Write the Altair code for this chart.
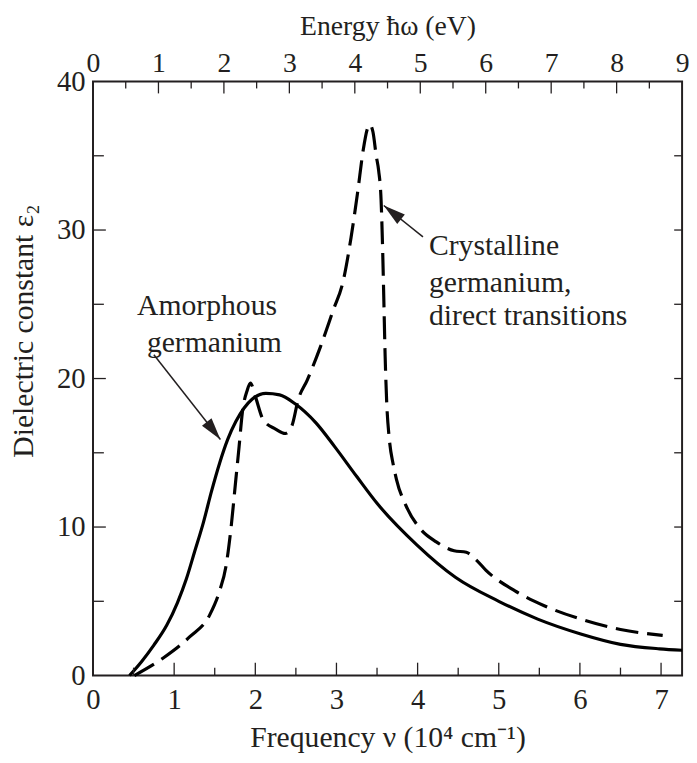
import math
import altair as alt
import pandas as pd

# ---------------- data ----------------
amor_x = [0.45, 0.60, 0.75, 0.91, 1.04, 1.15, 1.25, 1.36, 1.46, 1.56, 1.66, 1.76,
          1.86, 1.96, 2.13, 2.30, 2.49, 2.75, 2.98, 3.25, 3.50, 3.99, 4.47, 5.00,
          5.48, 6.01, 6.50, 6.98, 7.259]
amor_y = [0.0, 0.95, 2.05, 3.4, 4.9, 6.5, 8.3, 10.3, 12.4, 14.3, 15.9, 17.1,
          18.0, 18.6, 19.0, 18.9, 18.3, 17.0, 15.4, 13.4, 11.6, 8.8, 6.6, 5.0,
          3.8, 2.8, 2.1, 1.8, 1.7]

cryst_x = [0.51, 0.87, 1.19, 1.44, 1.56, 1.64, 1.70, 1.76, 1.80, 1.84, 1.90, 1.94,
           2.00, 2.10, 2.25, 2.37, 2.45, 2.53, 2.64, 2.80, 2.96, 3.08, 3.18, 3.26,
           3.33, 3.38, 3.41, 3.45, 3.49, 3.52, 3.55, 3.57, 3.585, 3.60, 3.62, 3.65,
           3.70, 3.74, 3.86, 4.03, 4.23, 4.45, 4.60, 4.72, 4.84, 5.20, 5.56, 6.01,
           6.50, 7.02]
cryst_y = [0.0, 1.2, 2.6, 4.1, 5.7, 7.4, 9.9, 13.2, 15.4, 17.7, 19.2, 19.7,
           18.8, 17.2, 16.6, 16.3, 16.8, 18.6, 19.9, 22.1, 24.6, 26.5, 29.5, 32.5,
           35.4, 36.8, 37.1, 36.6, 35.0, 34.0, 32.0, 28.5, 25.0, 21.5, 18.3, 16.0,
           14.2, 13.2, 11.4, 9.9, 9.0, 8.4, 8.3, 7.8, 7.1, 5.7, 4.7, 3.8,
           3.1, 2.7]

bottom_labels = [0, 1, 2, 3, 4, 5, 6, 7]
bottom_major = [1, 2, 3, 4, 5, 6, 7]
bottom_minor = [0.5, 1.5, 2.5, 3.5, 4.5, 5.5, 6.5]
top_labels = [0, 1, 2, 3, 4, 5, 6, 7, 8, 9]
top_major = [1, 2, 3, 4, 5, 6, 7, 8]
top_minor = [0.5, 1.5, 2.5, 3.5, 4.5, 5.5, 6.5, 7.5, 8.5]
left_labels = [0, 10, 20, 30, 40]
left_major = [10, 20, 30]
left_minor = [5, 15, 25, 35]
right_ticks = [5, 10, 15, 20, 25, 30, 35]

amor_text = ["Amorphous", "germanium"]
amor_text_x = [0.543, 0.664]
amor_text_y = [24.9, 22.4]
cryst_text = ["Crystalline", "germanium,", "direct transitions"]
cryst_text_x = [4.14, 4.14, 4.14]
cryst_text_y = [28.9, 26.4, 24.2]
arrow_tail_x = [0.75, 4.066]
arrow_tail_y = [21.6, 29.54]
arrow_tip_x = [1.57, 3.583]
arrow_tip_y = [15.9, 31.65]

# ---------------- chart ----------------
EV_TO_F = 0.806554
XMAX = 9 * EV_TO_F
W, H = 596, 601
FONT = "Liberation Serif"
TC = "#231f20"
FS_TICK = 29
FS_NOTE = 30

xs = alt.Scale(domain=[0, XMAX], nice=False, zero=False)
ys = alt.Scale(domain=[0, 40], nice=False, zero=False)
evs = alt.Scale(domain=[0, 9], nice=False, zero=False)
NOX = alt.X("f:Q", scale=xs, axis=None)
NOY = alt.Y("e:Q", scale=ys, axis=None)

common = dict(ticks=False, domain=False, grid=False, labelFont=FONT,
              labelColor=TC, labelFlush=False,
              labelOverlap=False, titleFont=FONT,
              titleFontWeight="normal", titleColor=TC)

amor_df = pd.DataFrame({"f": amor_x, "e": amor_y})
cryst_df = pd.DataFrame({"f": cryst_x, "e": cryst_y})

solid = alt.Chart(amor_df).mark_line(
    color="black", strokeWidth=3.2, interpolate="monotone"
).encode(
    x=alt.X("f:Q", scale=xs, axis=alt.Axis(
        orient="bottom", values=bottom_labels, title="Frequency ν (10⁴ cm⁻¹)",
        labelFontSize=FS_TICK, labelPadding=10, titlePadding=9,
        titleFontSize=30, **common)),
    y=alt.Y("e:Q", scale=ys, axis=alt.Axis(
        orient="left", values=left_labels, title="Dielectric constant ε₂",
        labelFontSize=FS_TICK, labelPadding=8, titleFontSize=30,
        titleX=-70, titleY=252, titleAlign="center", titleBaseline="middle",
        titleAngle=270, **common)),
)

dashed = alt.Chart(cryst_df).mark_line(
    color="black", strokeWidth=3.2, interpolate="monotone", strokeDash=[23, 9]
).encode(x=NOX, y=NOY)


def xticks(vals, length, y0):
    df = pd.DataFrame({"f": vals})
    y1 = y0 - length if y0 > 0 else y0 + length
    return alt.Chart(df).mark_rule(color=TC, strokeWidth=1.3).encode(
        x=NOX, y=alt.value(y0), y2=alt.value(y1))


def yticks(vals, length, x0):
    df = pd.DataFrame({"e": vals})
    x1 = x0 - length if x0 > 0 else x0 + length
    return alt.Chart(df).mark_rule(color=TC, strokeWidth=1.3).encode(
        y=NOY, x=alt.value(x0), x2=alt.value(x1))


b_major = xticks(bottom_major, 13, H)
b_minor = xticks(bottom_minor, 8, H)
l_major = yticks(left_major, 13, 0)
l_minor = yticks(left_minor, 11, 0)
r_ticks = yticks(right_ticks, 8, W)

amor_txt = alt.Chart(pd.DataFrame({"f": amor_text_x, "e": amor_text_y, "t": amor_text})).mark_text(
    align="left", baseline="middle", font=FONT, fontSize=FS_NOTE, color=TC
).encode(x=NOX, y=NOY, text="t:N")
cryst_txt = alt.Chart(pd.DataFrame({"f": cryst_text_x, "e": cryst_text_y, "t": cryst_text})).mark_text(
    align="left", baseline="middle", font=FONT, fontSize=FS_NOTE, color=TC
).encode(x=NOX, y=NOY, text="t:N")

px_x = W / XMAX
px_y = H / 40.0
angles = []
for tx, ty, hx, hy in zip(arrow_tail_x, arrow_tail_y, arrow_tip_x, arrow_tip_y):
    dx = (hx - tx) * px_x
    dy = -(hy - ty) * px_y
    angles.append(math.degrees(math.atan2(dx, -dy)) % 360)

arrow_df = pd.DataFrame({"f": arrow_tail_x, "e": arrow_tail_y,
                         "f2": arrow_tip_x, "e2": arrow_tip_y})
arrow_lines = alt.Chart(arrow_df).mark_rule(color=TC, strokeWidth=1.5).encode(
    x=NOX, y=NOY, x2="f2:Q", y2="e2:Q")
head_df = pd.DataFrame({"f": arrow_tip_x, "e": arrow_tip_y, "a": angles})
arrow_heads = alt.Chart(head_df).mark_point(
    shape="M0,0L-0.55,2L0.55,2Z", filled=True, size=500, color=TC,
    opacity=1, strokeWidth=0
).encode(x=NOX, y=NOY, angle=alt.Angle("a:Q", scale=None))

top_major_layer = alt.Chart(pd.DataFrame({"ev": top_major})).mark_rule(
    color=TC, strokeWidth=1.3
).encode(
    x=alt.X("ev:Q", scale=evs, axis=alt.Axis(
        orient="top", values=top_labels, title="Energy ħω (eV)",
        labelFontSize=28, labelPadding=4, titlePadding=10, titleFontSize=28,
        **common)),
    y=alt.value(0), y2=alt.value(12))
top_minor_layer = alt.Chart(pd.DataFrame({"ev": top_minor})).mark_rule(
    color=TC, strokeWidth=1.3
).encode(x=alt.X("ev:Q", scale=evs, axis=None), y=alt.value(0), y2=alt.value(7))

chart = alt.layer(
    solid, dashed, b_major, b_minor, l_major, l_minor, r_ticks,
    amor_txt, cryst_txt, arrow_lines, arrow_heads,
    top_major_layer, top_minor_layer
).resolve_scale(x="independent").resolve_axis(y="independent").properties(
    width=W, height=H,
    autosize=alt.AutoSizeParams(type="none"),
    padding={"left": 86, "top": 70, "right": 7, "bottom": 76},
    background="white",
).configure_view(stroke=TC, strokeWidth=2)

chart.save("out.html", embed_options={"renderer": "svg", "actions": False})
